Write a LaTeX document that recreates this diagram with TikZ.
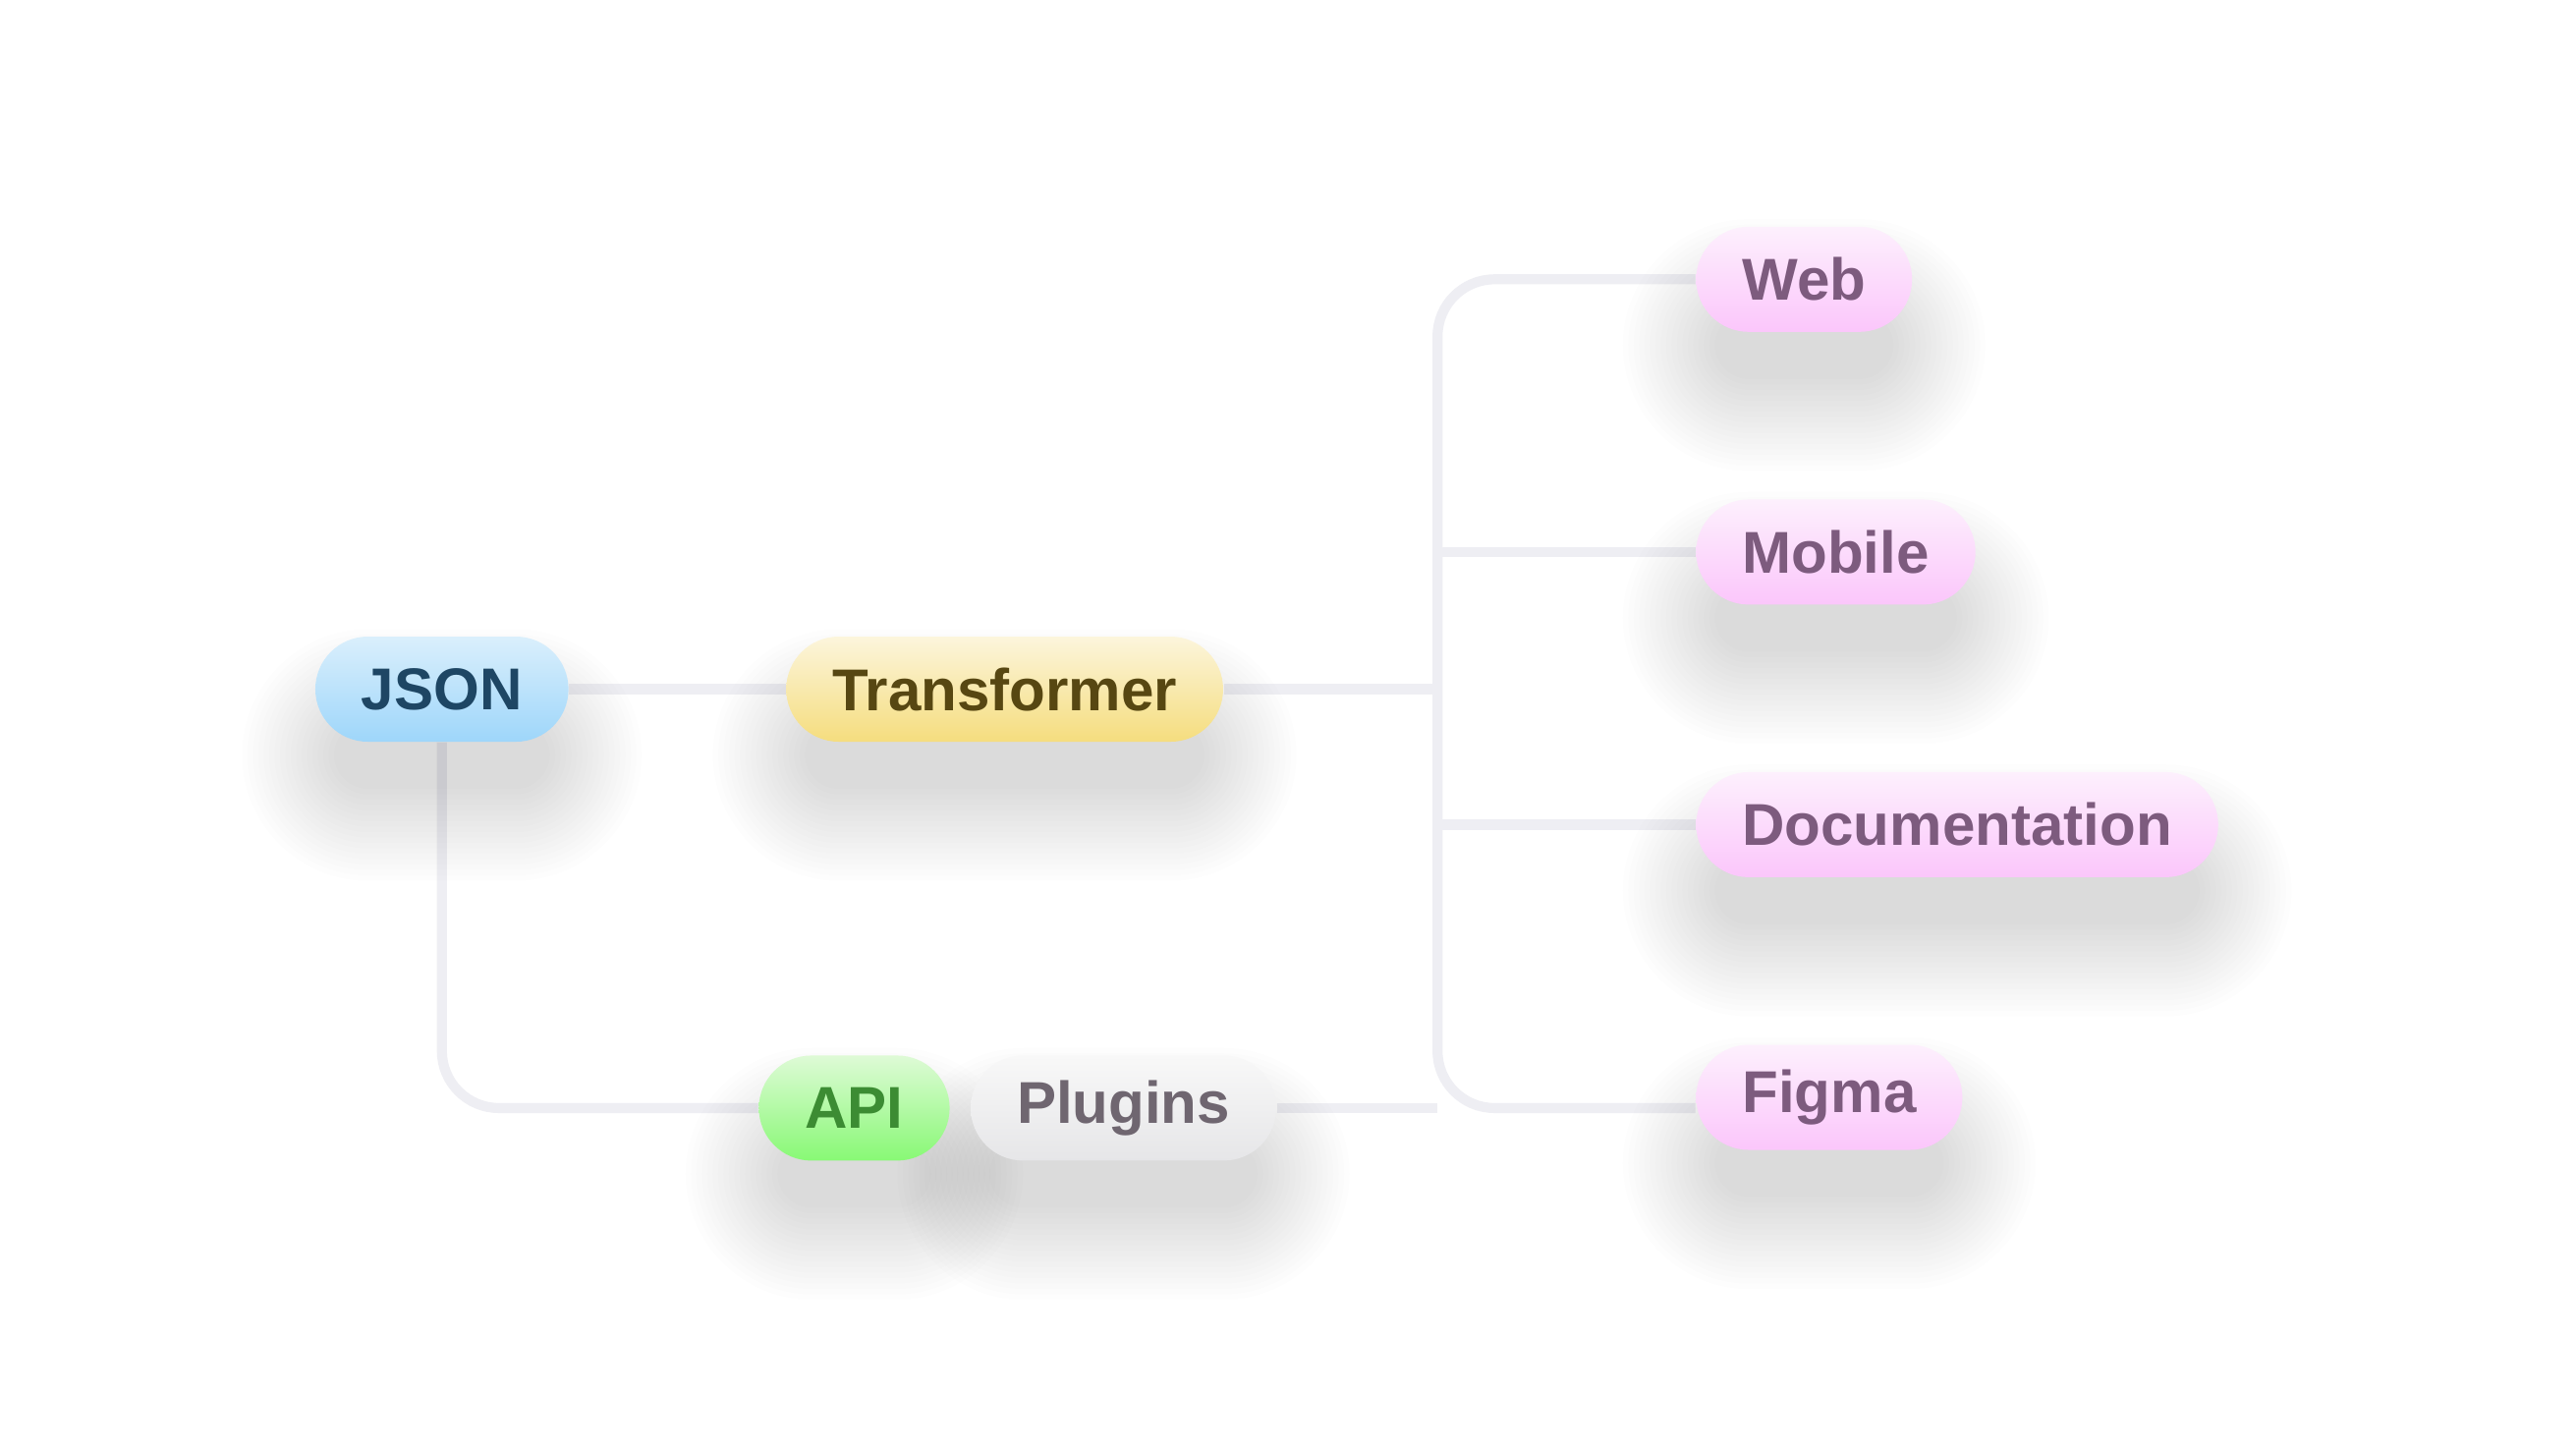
\documentclass[tikz,border=0pt]{standalone}
\usepackage{fontspec}
\setmainfont{Liberation Sans}
\usetikzlibrary{positioning,calc}
\pgfdeclarelayer{bg}
\pgfdeclarelayer{shade}
\pgfsetlayers{bg,shade,main}
\definecolor{linkgray}{HTML}{EEEEF3}
\definecolor{jsontop}{HTML}{DAEFFC}\definecolor{jsonbot}{HTML}{9ED6FA}\definecolor{jsontext}{HTML}{1E4664}
\definecolor{transtop}{HTML}{FCF5DC}\definecolor{transbot}{HTML}{F5DD7E}\definecolor{transtext}{HTML}{574712}
\definecolor{apitop}{HTML}{DEFAD6}\definecolor{apibot}{HTML}{88F975}\definecolor{apitext}{HTML}{3C8C33}
\definecolor{plugtop}{HTML}{F8F8F8}\definecolor{plugbot}{HTML}{E6E6E8}\definecolor{plugtext}{HTML}{6F6670}
\definecolor{pinktop}{HTML}{FDF0FD}\definecolor{pinkbot}{HTML}{FBC6FB}\definecolor{pinktext}{HTML}{7D5B7E}
\tikzset{
  pill/.style={rounded corners=0.535cm,minimum height=1.07cm,inner xsep=0.47cm,inner ysep=0pt,
               font=\fontsize{17.1}{18}\selectfont\bfseries},
  pillblue/.style={pill,top color=jsontop,bottom color=jsonbot,text=jsontext},
  pillyellow/.style={pill,top color=transtop,bottom color=transbot,text=transtext},
  pillgreen/.style={pill,top color=apitop,bottom color=apibot,text=apitext},
  pillgray/.style={pill,top color=plugtop,bottom color=plugbot,text=plugtext},
  pillpink/.style={pill,top color=pinktop,bottom color=pinkbot,text=pinktext,anchor=west},
  link/.style={draw=linkgray,line width=2.9pt,rounded corners=0.58cm},
}
% soft drop shadow under a pill, built from stacked faint layers
\newcommand{\pillshadow}[1]{%
  \begin{pgfonlayer}{shade}
    \foreach \k in {1,...,18}{
      \pgfmathsetmacro\rr{0.3+0.055*\k}
      \fill[black,opacity=0.0095,rounded corners=\rr cm]
        ($(#1.south west)+(0.25-0.055*\k,-0.42-0.055*\k)$) rectangle
        ($(#1.north east)+(-0.25+0.055*\k,-0.42-0.5+0.055*\k)$);
    }
  \end{pgfonlayer}}
\begin{document}
\begin{tikzpicture}[x=1cm,y=1cm]
  \useasboundingbox (0,0) rectangle (26.22,-14.74);
  % ===== left side: source and transformer =====
  \node[pillblue] (json) at (4.498,-7.015){JSON};
  \node[pillyellow] (trans) at (10.226,-7.015){Transformer};
  \node[pillgreen] (api) at (8.695,-11.279){API};
  \node[pillgray,right=0.2cm of api] (plug){Plugins};
  % ===== right side: targets =====
  \node[pillpink] (web) at (17.257,-2.843){Web};
  \node[pillpink] (mob) at (17.257,-5.619){Mobile};
  \node[pillpink] (doc) at (17.257,-8.394){Documentation};
  \node[pillpink] (fig) at (17.257,-11.170){Figma};
  \coordinate (bus) at (14.632,0);
  \foreach \n in {json,trans,api,plug,web,mob,doc,fig}{\pillshadow{\n}}

  % connectors under the pills
  \begin{pgfonlayer}{bg}
    \fill[white] (0,0) rectangle (26.22,-14.74);
    \draw[link] (json) -- (trans);
    \draw[link] (trans.east) -- (trans.east -| bus);
    \draw[link] (web.west) -- (web.west -| bus) -- (bus |- plug.east) -- (fig.west |- plug.east);
    \draw[link] (mob.west) -- (mob.west -| bus);
    \draw[link] (doc.west) -- (doc.west -| bus);
    \draw[link] (plug.east) -- (plug.east -| bus);
    \draw[link] (json.south) |- (api.west);
  \end{pgfonlayer}
\end{tikzpicture}
\end{document}
